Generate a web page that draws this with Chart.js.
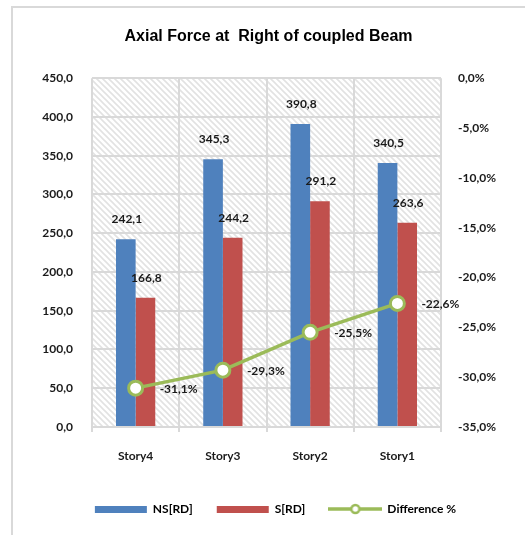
<!DOCTYPE html>
<html lang="en">
<head>
  <meta charset="UTF-8" />
  <title>Axial Force at Right of coupled Beam</title>
  <script src="https://cdn.jsdelivr.net/npm/chart.js"></script>
  <style>
    * { margin: 0; padding: 0; box-sizing: border-box; }
    html, body { width: 525px; height: 535px; overflow: hidden; background: #fff; }
    .frame {
      position: absolute; left: 11px; top: 6px;
      width: 600px; height: 600px;
      border: 2px solid #d9d9d9;
    }
    .wrap { position: absolute; left: 0; top: 0; width: 525px; height: 535px; }
  </style>
</head>
<body>
  <div class="frame"></div>
  <div class="wrap"><canvas id="chart" width="525" height="535"></canvas></div>

  <script>
    const stories = ['Story4', 'Story3', 'Story2', 'Story1'];
    const nsRD = [242.1, 345.3, 390.8, 340.5];
    const sRD = [166.8, 244.2, 291.2, 263.6];
    const diffPct = [-31.1, -29.3, -25.5, -22.6];

    const BLUE = '#4f81bd';
    const RED = '#c0504d';
    const GREEN = '#9bbb59';
    const GRID = '#d9d9d9';
    const FONT = 'Lato, "Liberation Sans", sans-serif';

    const comma = (v, d) => v.toFixed(d).replace('.', ',');

    // diagonal hatch used for the plot background
    function hatch() {
      const c = document.createElement('canvas');
      c.width = 6; c.height = 6;
      const g = c.getContext('2d');
      g.fillStyle = '#fff';
      g.fillRect(0, 0, 6, 6);
      g.strokeStyle = '#e2e2e2';
      g.lineWidth = 1.6;
      g.beginPath();
      g.moveTo(-1, -1); g.lineTo(7, 7);
      g.moveTo(-4, 2); g.lineTo(2, 8);
      g.moveTo(2, -4); g.lineTo(8, 2);
      g.stroke();
      return c;
    }

    function legendIcon(kind, color) {
      const c = document.createElement('canvas');
      c.width = 54; c.height = 16;
      const g = c.getContext('2d');
      if (kind === 'bar') {
        g.fillStyle = color;
        g.fillRect(1, 5, 52, 7);
      } else {
        g.strokeStyle = color;
        g.lineWidth = 3.5;
        g.beginPath(); g.moveTo(0, 8); g.lineTo(54, 8); g.stroke();
        g.beginPath(); g.arc(27, 8, 4, 0, Math.PI * 2);
        g.fillStyle = '#fff'; g.fill();
        g.lineWidth = 2.5; g.stroke();
      }
      return c;
    }

    const backdrop = {
      id: 'backdrop',
      afterLayout(chart) {
        // legend sits a little right of the title centre in the original
        chart.legend.left += 7;
        chart.legend.right += 7;
      },
      beforeDraw(chart) {
        const { ctx, chartArea: a } = chart;
        ctx.save();
        ctx.fillStyle = ctx.createPattern(hatch(), 'repeat');
        ctx.fillRect(a.left, a.top, a.right - a.left, a.bottom - a.top);
        ctx.restore();
      }
    };

    const valueLabels = {
      id: 'valueLabels',
      afterDatasetsDraw(chart) {
        const ctx = chart.ctx;
        ctx.save();
        ctx.font = 'bold 12px ' + FONT;
        ctx.fillStyle = '#1a1a1a';
        chart.data.datasets.forEach((ds, i) => {
          const meta = chart.getDatasetMeta(i);
          meta.data.forEach((el, j) => {
            const v = ds.data[j];
            if (ds.type === 'line') {
              ctx.textAlign = 'left';
              ctx.textBaseline = 'middle';
              ctx.fillText(comma(v, 1) + '%', el.x + 24, el.y + 1);
            } else {
              ctx.textAlign = 'center';
              ctx.textBaseline = 'middle';
              ctx.fillText(comma(v, 1), el.x + 1, el.y - 20);
            }
          });
        });
        ctx.restore();
      }
    };

    new Chart(document.getElementById('chart'), {
      type: 'bar',
      data: {
        labels: stories,
        datasets: [
          { label: 'NS[RD]', data: nsRD, backgroundColor: BLUE, yAxisID: 'y', order: 1,
            categoryPercentage: 0.45, barPercentage: 1.0 },
          { label: 'S[RD]', data: sRD, backgroundColor: RED, yAxisID: 'y', order: 1,
            categoryPercentage: 0.45, barPercentage: 1.0 },
          { type: 'line', label: 'Difference %', data: diffPct, yAxisID: 'y1', order: 0,
            borderColor: GREEN, borderWidth: 3.5, pointRadius: 7, pointBorderWidth: 3,
            pointBackgroundColor: '#fff', pointBorderColor: GREEN, tension: 0 }
        ]
      },
      options: {
        responsive: false,
        animation: false,
        layout: { padding: { left: 12, right: 0, top: 0, bottom: 10 } },
        plugins: {
          tooltip: { enabled: false },
          title: {
            display: true,
            text: 'Axial Force at  Right of coupled Beam',
            color: '#000',
            font: { family: '"Liberation Sans", Arial, sans-serif', size: 16, weight: 'bold' },
            padding: { top: 27, bottom: 32 }
          },
          legend: {
            position: 'bottom',
            labels: {
              usePointStyle: true,
              pointStyleWidth: 52,
              boxHeight: 12,
              padding: 24,
              color: '#1a1a1a',
              font: { family: FONT, size: 12, weight: 'bold' },
              generateLabels: () => [
                { text: 'NS[RD]', pointStyle: legendIcon('bar', BLUE), datasetIndex: 0, hidden: false },
                { text: 'S[RD]', pointStyle: legendIcon('bar', RED), datasetIndex: 1, hidden: false },
                { text: 'Difference %', pointStyle: legendIcon('line', GREEN), datasetIndex: 2, hidden: false }
              ]
            }
          }
        },
        scales: {
          x: {
            grid: { color: GRID, lineWidth: 2, offset: true, tickLength: 5, drawTicks: true },
            border: { color: GRID, width: 2 },
            ticks: { color: '#1a1a1a', padding: 17, font: { family: FONT, size: 12, weight: 'bold' } },
            afterFit: (s) => { s.height = 52; }
          },
          y: {
            position: 'left',
            min: 0, max: 450,
            grid: { color: GRID, lineWidth: 2, drawTicks: false },
            border: { display: false },
            ticks: { stepSize: 50, padding: 19, color: '#1a1a1a',
              font: { family: FONT, size: 12, weight: 'bold' },
              callback: (v) => comma(v, 1) },
            afterFit: (s) => { s.width = 80; }
          },
          y1: {
            position: 'right',
            min: -35, max: 0,
            grid: { display: false, drawTicks: false },
            border: { display: false },
            ticks: { stepSize: 5, padding: 17, color: '#1a1a1a',
              font: { family: FONT, size: 12, weight: 'bold' },
              callback: (v) => comma(v, 1) + '%' },
            afterFit: (s) => { s.width = 84; }
          }
        }
      },
      plugins: [backdrop, valueLabels]
    });
  </script>
</body>
</html>
